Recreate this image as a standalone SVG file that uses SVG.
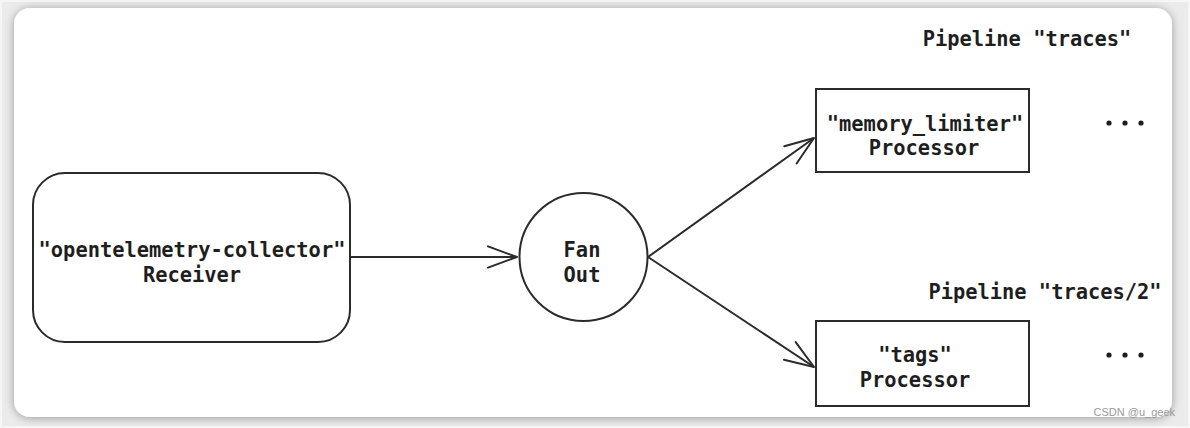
<svg xmlns="http://www.w3.org/2000/svg" width="1190" height="428" viewBox="0 0 1190 428">
<defs>
<filter id="sh" x="-5%" y="-5%" width="110%" height="110%">
<feGaussianBlur in="SourceAlpha" stdDeviation="5"/>
<feOffset dx="0" dy="1"/>
<feComponentTransfer><feFuncA type="linear" slope="0.35"/></feComponentTransfer>
<feMerge><feMergeNode/><feMergeNode in="SourceGraphic"/></feMerge>
</filter>
<marker id="ah" markerUnits="userSpaceOnUse" markerWidth="40" markerHeight="30" viewBox="-32 -15 34 30" refX="0" refY="0" orient="auto" overflow="visible">
<path d="M-29,-10.6 L0,0 L-29,10.6" fill="none" stroke="#2b2b2b" stroke-width="2" stroke-linecap="round" stroke-linejoin="round"/>
</marker>
</defs>
<style>
.t{font-family:"DejaVu Sans Mono","Liberation Mono",monospace;font-weight:bold;font-size:20.4px;fill:#1e1e1e;text-anchor:middle}
.n{fill:#fff;stroke:#2b2b2b;stroke-width:2}
.c{fill:none;stroke:#2b2b2b;stroke-width:2;marker-end:url(#ah)}
.d{fill:#1e1e1e}
</style>
<rect x="0" y="0" width="1190" height="428" fill="#ebebeb"/>
<rect x="1" y="1" width="1188" height="426" fill="none" stroke="#f6f6f6" stroke-width="2"/>
<rect x="14" y="8" width="1158" height="409" rx="16" fill="#ffffff" filter="url(#sh)"/>

<g id="connectors">
<line class="c" x1="351" y1="257" x2="517" y2="257"/>
<line class="c" x1="648" y1="257" x2="814" y2="138"/>
<line class="c" x1="648" y1="257" x2="814" y2="367"/>
</g>

<g id="receiver">
<rect class="n" x="33" y="173" width="317" height="169" rx="32"/>
<text class="t" x="192" y="257">"opentelemetry-collector"</text>
<text class="t" x="192" y="282">Receiver</text>
</g>

<g id="fanout">
<circle class="n" cx="583.5" cy="257" r="64"/>
<text class="t" x="582" y="257">Fan</text>
<text class="t" x="582" y="282">Out</text>
</g>

<g id="memory_limiter">
<rect class="n" x="816" y="89" width="213" height="83"/>
<text class="t" x="925" y="131">"memory_limiter"</text>
<text class="t" x="924" y="155">Processor</text>
</g>

<g id="tags">
<rect class="n" x="816" y="321" width="213" height="85"/>
<text class="t" x="915" y="362">"tags"</text>
<text class="t" x="915" y="387">Processor</text>
</g>

<g id="label-traces">
<text class="t" x="1027" y="46">Pipeline "traces"</text>
</g>
<g id="label-traces2">
<text class="t" x="1045" y="299">Pipeline "traces/2"</text>
</g>

<g id="dots1">
<circle class="d" cx="1109" cy="123" r="2.6"/>
<circle class="d" cx="1125" cy="123" r="2.6"/>
<circle class="d" cx="1141" cy="123" r="2.6"/>
</g>
<g id="dots2">
<circle class="d" cx="1109" cy="355" r="2.6"/>
<circle class="d" cx="1125" cy="355" r="2.6"/>
<circle class="d" cx="1141" cy="355" r="2.6"/>
</g>

<text x="1175" y="416" font-family="'Liberation Sans',Arial,sans-serif" font-size="11" fill="#999" text-anchor="end">CSDN @u_geek</text>
</svg>
